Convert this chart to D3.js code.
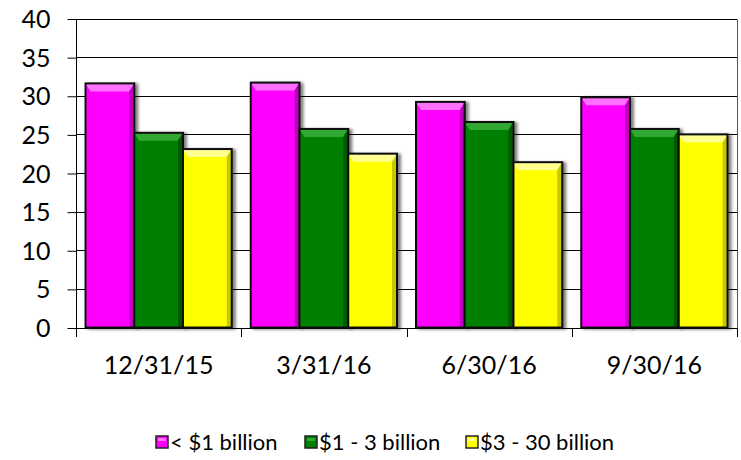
<!DOCTYPE html>
<html>
<head>
<meta charset="utf-8">
<script src="https://cdn.jsdelivr.net/npm/d3@7"></script>
<style>
  html, body { margin: 0; padding: 0; background: #fff; }
  svg { display: block; }
  text { font-family: Lato, "Open Sans", sans-serif; fill: #000; }
</style>
</head>
<body>
<svg id="chart" width="741" height="460"></svg>
<script>
const categories = ["12/31/15", "3/31/16", "6/30/16", "9/30/16"];
const seriesNames = ["< $1 billion", "$1 - 3 billion", "$3 - 30 billion"];
const under1 = [31.6, 31.7, 29.2, 29.8];
const oneTo3 = [25.2, 25.7, 26.6, 25.7];
const threeTo30 = [23.1, 22.5, 21.4, 25.0];
const yTicks = [0, 5, 10, 15, 20, 25, 30, 35, 40];

(function () {
const seriesValues = [under1, oneTo3, threeTo30];
const colors = [
  { base: "#FF00FF", light: "#FF70FF", dark: "#C000C0" },
  { base: "#008000", light: "#30A830", dark: "#005800" },
  { base: "#FFFF00", light: "#FFFF90", dark: "#C8C800" }
];

const svg = d3.select("#chart");
const pLeft = 76, pRight = 737, pTop = 18.5, pBottom = 327.5;

const x0 = d3.scaleBand().domain(categories).range([pLeft, pRight]).paddingInner(0.115).paddingOuter(0.0575);
const x1 = d3.scaleBand().domain(d3.range(seriesNames.length)).range([0, x0.bandwidth()]);
const y = d3.scaleLinear().domain([0, 40]).range([pBottom, pTop]);

// gridlines
svg.append("g").selectAll("line").data(yTicks.filter(d => d > 0)).join("line")
  .attr("x1", pLeft).attr("x2", pRight)
  .attr("y1", d => Math.round(y(d)) + 0.5).attr("y2", d => Math.round(y(d)) + 0.5)
  .attr("stroke", "#000").attr("stroke-width", 1);
// right border
svg.append("line").attr("x1", pRight + 0.5).attr("x2", pRight + 0.5)
  .attr("y1", Math.round(pTop) + 0.5).attr("y2", Math.round(pBottom) + 0.5)
  .attr("stroke", "#555").attr("stroke-width", 1);

// y axis
const yAxis = svg.append("g").attr("transform", `translate(${pLeft + 0.5},0)`)
  .call(d3.axisLeft(y).tickValues(yTicks).tickSize(9).tickPadding(17));
yAxis.selectAll("text").style("font-size", "25px").attr("dy", "0.36em");
yAxis.select(".domain").remove();
yAxis.selectAll("line").attr("stroke", "#000").attr("transform", "translate(0,0.5)");
svg.append("line").attr("x1", pLeft + 0.5).attr("x2", pLeft + 0.5)
  .attr("y1", Math.round(pTop)).attr("y2", Math.round(pBottom) + 9)
  .attr("stroke", "#000");

// x axis baseline and boundary ticks
svg.append("line").attr("x1", pLeft).attr("x2", pRight)
  .attr("y1", Math.round(pBottom) + 0.5).attr("y2", Math.round(pBottom) + 0.5).attr("stroke", "#000");
const step = (pRight - pLeft) / categories.length;
const bounds = d3.range(categories.length + 1).map(i => pLeft + i * step);
svg.append("g").selectAll("line").data(bounds.slice(1)).join("line")
  .attr("x1", d => Math.round(d) + 0.5).attr("x2", d => Math.round(d) + 0.5)
  .attr("y1", Math.round(pBottom)).attr("y2", Math.round(pBottom) + 9)
  .attr("stroke", "#000");
svg.append("g").selectAll("text").data(categories).join("text")
  .attr("x", d => x0(d) + x0.bandwidth() / 2)
  .attr("y", 365).attr("dy", "0.36em")
  .attr("text-anchor", "middle").style("font-size", "25px")
  .text(d => d);

// bars with bevel
const defs = svg.append("defs");
const filt = defs.append("filter").attr("id", "shadow").attr("x", "-20%").attr("y", "-20%").attr("width", "150%").attr("height", "150%");
filt.append("feGaussianBlur").attr("in", "SourceAlpha").attr("stdDeviation", 1.5);
filt.append("feOffset").attr("dx", 2.5).attr("dy", 1).attr("result", "ob");
filt.append("feComponentTransfer").append("feFuncA").attr("type", "linear").attr("slope", 0.5);
const fm = filt.append("feMerge");
fm.append("feMergeNode");
fm.append("feMergeNode").attr("in", "SourceGraphic");

const barData = [];
categories.forEach((c, i) => {
  seriesValues.forEach((vals, s) => {
    barData.push({ c, s, v: vals[i] });
  });
});

const bars = svg.append("g").selectAll("g").data(barData).join("g")
  .attr("filter", "url(#shadow)");
bars.each(function(d) {
  const g = d3.select(this);
  const bx = x0(d.c) + x1(d.s), bw = x1.bandwidth();
  const by = y(d.v), bh = y(0) - y(d.v);
  const col = colors[d.s];
  const b = 5;
  g.append("rect").attr("x", bx).attr("y", by).attr("width", bw).attr("height", bh).attr("fill", col.base);
  g.append("polygon").attr("points", [[bx, by], [bx + bw, by], [bx + bw - b, by + b + 3], [bx + b, by + b + 3]].join(" "))
    .attr("fill", col.light);
  g.append("polygon").attr("points", [[bx + bw, by], [bx + bw - b, by + b + 3], [bx + bw - b, by + bh], [bx + bw, by + bh]].join(" "))
    .attr("fill", col.dark);
  g.append("rect").attr("x", bx).attr("y", by).attr("width", bw).attr("height", bh)
    .attr("fill", "none").attr("stroke", "#111").attr("stroke-width", 2);
});

// legend
const legendItems = [
  { sx: 156, tx: 170 },
  { sx: 305, tx: 319 },
  { sx: 466, tx: 480 }
];
const lg = svg.append("g");
seriesNames.forEach((n, i) => {
  const it = legendItems[i];
  const col = colors[i];
  lg.append("rect").attr("x", it.sx).attr("y", 436).attr("width", 12).attr("height", 12)
    .attr("fill", col.base).attr("stroke", "#222").attr("stroke-width", 1.5);
  lg.append("rect").attr("x", it.sx + 2).attr("y", 438).attr("width", 8).attr("height", 3)
    .attr("fill", col.light);
  lg.append("text").attr("x", it.tx).attr("y", 442).attr("dy", "0.36em")
    .style("font-size", "22px").text(n);
});
})();
</script>
</body>
</html>
